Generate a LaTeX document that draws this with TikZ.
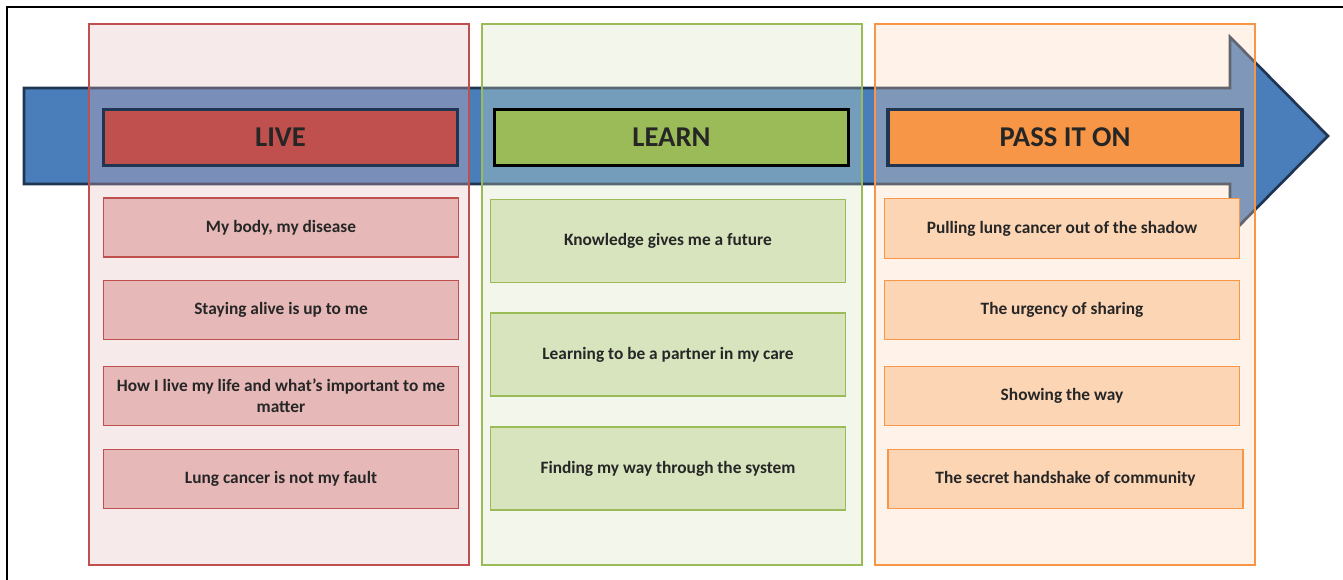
\documentclass[tikz,border=0pt]{standalone}
\usepackage{fontspec}
\setmainfont{Carlito}

\definecolor{arrowblue}{HTML}{4A7EBB}
\definecolor{arrowline}{HTML}{1F3552}
\definecolor{livered}{HTML}{C0504D}
\definecolor{livelight}{HTML}{E6B9B8}
\definecolor{learngreen}{HTML}{9BBB59}
\definecolor{learnlight}{HTML}{D7E4BD}
\definecolor{passorange}{HTML}{F79646}
\definecolor{passlight}{HTML}{FCD5B5}
\definecolor{textgray}{HTML}{262626}

\tikzset{
	panel/.style={line width=1.1pt, fill opacity=0.3},
	head/.style={line width=2.4pt, minimum width=265.5pt, minimum height=42pt, inner sep=0pt, font=\fontsize{21.5}{24}\selectfont\bfseries, text=textgray},
	item/.style={line width=1.1pt, minimum width=266pt, minimum height=44pt, inner sep=0pt, align=center, font=\fontsize{13}{16}\selectfont\bfseries, text=textgray},
}

\begin{document}
\begin{tikzpicture}[x=0.75pt, y=-0.75pt]
	\useasboundingbox (0,0) rectangle (1343,580);
	% frame
	\draw[line width=1.9pt] (7,580) -- (7,7) -- (1343,7);

	% arrow
	\draw[arrowline, fill=arrowblue, line width=2pt, line join=miter] (24,88) -- (1230,88) -- (1230,37) -- (1328,136) -- (1230,235) -- (1230,184) -- (24,184) -- cycle;

	% panels
	\draw[panel, livered, fill=livelight] (89,24) rectangle (469,565);
	\draw[panel, learngreen, fill=learnlight] (482,24) rectangle (862,565);
	\draw[panel, passorange, fill=passlight] (875,24) rectangle (1255,565);

	% headers
	\node[head, draw=arrowline, fill=livered] (live) at (280.5,137.5) {LIVE};
	\node[head, draw=black, fill=learngreen] (learn) at (671.5,137.5) {LEARN};
	\node[head, draw=arrowline, fill=passorange] (pass) at (1065,137.5) {PASS IT ON};

	% live
	\node[item, draw=livered, fill=livelight] (live1) at (281,227.5) {My body, my disease};
	\node[item, draw=livered, fill=livelight] (live2) at (281,310) {Staying alive is up to me};
	\node[item, draw=livered, fill=livelight] (live3) at (281,396) {How I live my life and what’s important to me\\matter};
	\node[item, draw=livered, fill=livelight] (live4) at (281,479) {Lung cancer is not my fault};

	% learn
	\node[item, draw=learngreen, fill=learnlight, minimum height=62.5pt] (learn1) at (668,241) {Knowledge gives me a future};
	\node[item, draw=learngreen, fill=learnlight, minimum height=62.5pt] (learn2) at (668,354.5) {Learning to be a partner in my care};
	\node[item, draw=learngreen, fill=learnlight, minimum height=62.5pt] (learn3) at (668,468.5) {Finding my way through the system};

	% pass it on
	\node[item, draw=passorange, fill=passlight, minimum height=45pt] (pass1) at (1062,228.5) {Pulling lung cancer out of the shadow};
	\node[item, draw=passorange, fill=passlight] (pass2) at (1062,310) {The urgency of sharing};
	\node[item, draw=passorange, fill=passlight] (pass3) at (1062,396) {Showing the way};
	\node[item, draw=passorange, fill=passlight] (pass4) at (1065.5,479) {The secret handshake of community};
\end{tikzpicture}
\end{document}
